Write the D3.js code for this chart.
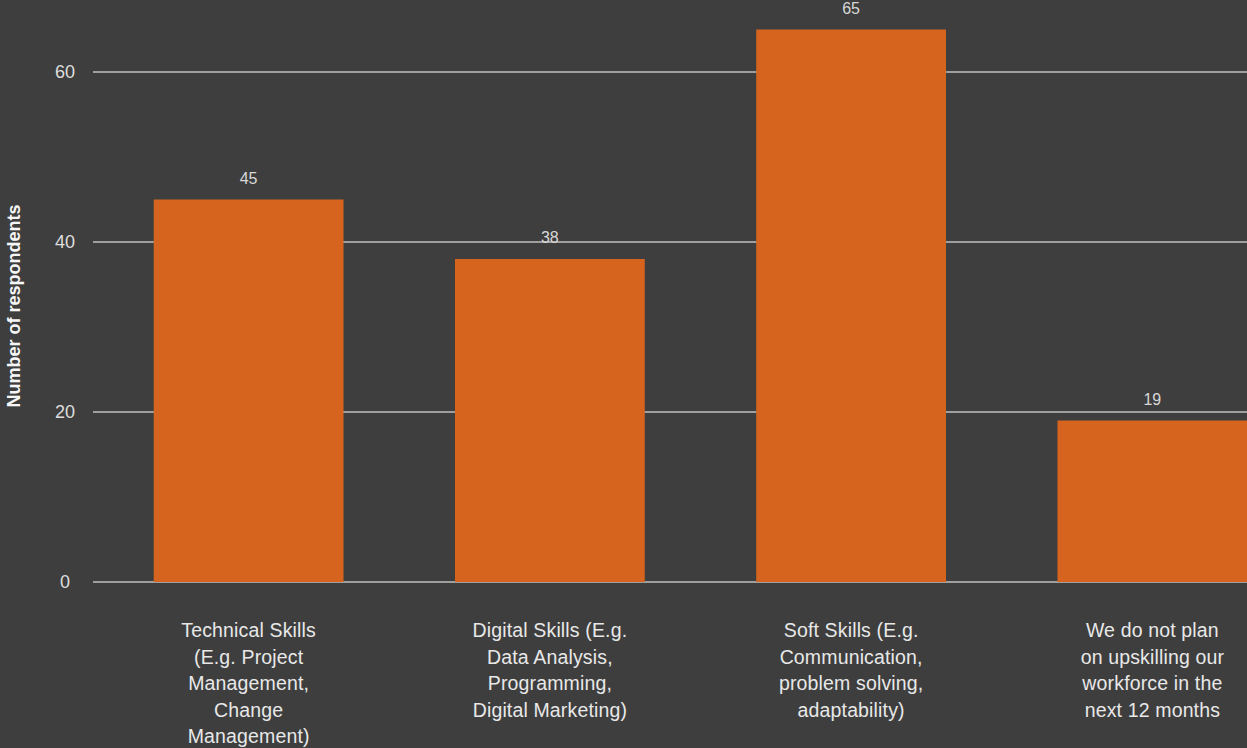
<!DOCTYPE html>
<html>
<head>
<meta charset="utf-8">
<script src="https://cdn.jsdelivr.net/npm/d3@7"></script>
<style>
  html, body { margin: 0; padding: 0; background: #3e3e3e; }
  svg { display: block; }
  text { font-family: "Liberation Sans", Arial, Helvetica, sans-serif; }
</style>
</head>
<body>
<svg id="chart" width="1247" height="748"></svg>
<script>
// Upskilling focus over the next 12 months
const categories = [
  ["Technical Skills", "(E.g. Project", "Management,", "Change", "Management)"],
  ["Digital Skills (E.g.", "Data Analysis,", "Programming,", "Digital Marketing)"],
  ["Soft Skills (E.g.", "Communication,", "problem solving,", "adaptability)"],
  ["We do not plan", "on upskilling our", "workforce in the", "next 12 months"]
];
const respondents = [45, 38, 65, 19];
const yTicks = [0, 20, 40, 60];
const yTitle = "Number of respondents";

const W = 1247, H = 748;
const svg = d3.select("#chart");

svg.append("rect").attr("width", W).attr("height", H).attr("fill", "#3e3e3e");

const keys = categories.map((_, i) => i);
const x = d3.scaleBand()
  .domain(keys)
  .range([98, 1303])
  .paddingInner(0.37)
  .paddingOuter(0.185);

const y = d3.scaleLinear().domain([0, 60]).range([582, 72]);

// gridlines
svg.append("g").selectAll("line")
  .data(yTicks)
  .join("line")
  .attr("x1", 93).attr("x2", W)
  .attr("y1", d => y(d)).attr("y2", d => y(d))
  .attr("stroke", "#ffffff")
  .attr("stroke-width", 1.2);

// y tick labels
svg.append("g").selectAll("text")
  .data(yTicks)
  .join("text")
  .attr("x", 65)
  .attr("y", d => y(d))
  .attr("dy", "0.36em")
  .attr("text-anchor", "middle")
  .attr("font-size", 18)
  .attr("fill", "#dedede")
  .text(d => d);

// y axis title
svg.append("text")
  .attr("transform", `translate(20, ${306}) rotate(-90)`)
  .attr("text-anchor", "middle")
  .attr("font-size", 18)
  .attr("font-weight", "bold")
  .attr("fill", "#f6f6f6")
  .text(yTitle);

// bars
svg.append("g").selectAll("rect")
  .data(respondents)
  .join("rect")
  .attr("x", (d, i) => x(i))
  .attr("width", x.bandwidth())
  .attr("y", d => y(d))
  .attr("height", d => y(0) - y(d))
  .attr("fill", "#d6641e");

// value labels
svg.append("g").selectAll("text")
  .data(respondents)
  .join("text")
  .attr("x", (d, i) => x(i) + x.bandwidth() / 2)
  .attr("y", d => y(d) - 16)
  .attr("text-anchor", "middle")
  .attr("font-size", 16)
  .attr("fill", "#d8d8d8")
  .text(d => d);

// category labels
const cat = svg.append("g").selectAll("text")
  .data(categories)
  .join("text")
  .attr("text-anchor", "middle")
  .attr("font-size", 19.5)
  .attr("letter-spacing", 0.15)
  .attr("fill", "#e8e8e8")
  .attr("transform", (d, i) => `translate(${x(i) + x.bandwidth() / 2}, 637)`);

cat.selectAll("tspan")
  .data(d => d)
  .join("tspan")
  .attr("x", 0)
  .attr("y", (d, j) => j * 26.5)
  .text(d => d);
</script>
</body>
</html>
